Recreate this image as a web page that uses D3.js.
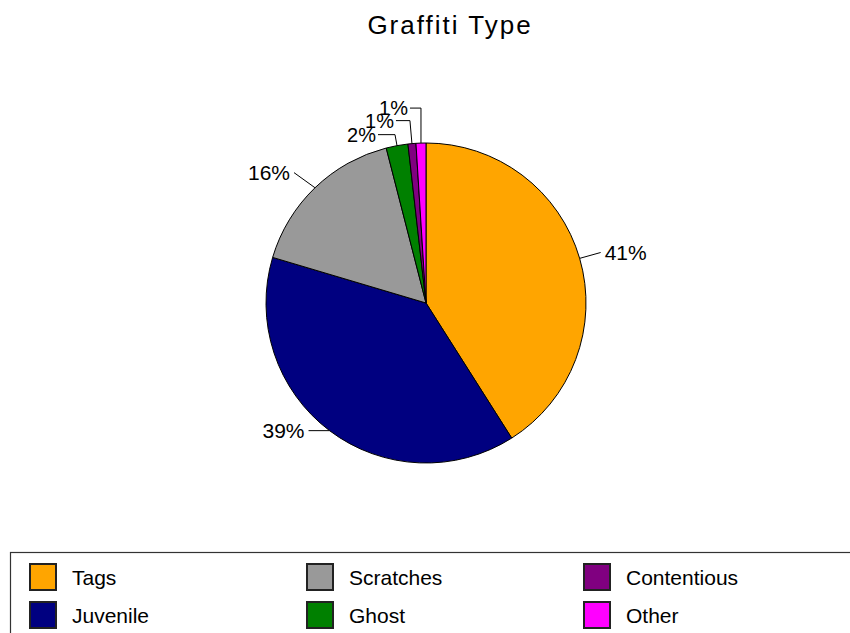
<!DOCTYPE html>
<html><head><meta charset="utf-8">
<script src="https://cdn.jsdelivr.net/npm/d3@7"></script>
<style>
html,body{margin:0;padding:0;background:#fff;overflow:hidden;}
text{font-family:"Liberation Sans",Arial,sans-serif;fill:#000;}
</style></head>
<body>
<script>
const title = "Graffiti Type";
const categories = ["Tags", "Juvenile", "Scratches", "Ghost", "Contentious", "Other"];
const values = [41.0, 38.6, 16.4, 2.2, 0.8, 1.0];
const colors = ["#FFA500", "#000080", "#999999", "#008000", "#800080", "#FF00FF"];
const legendOrder = ["Tags", "Scratches", "Contentious", "Juvenile", "Ghost", "Other"];

const W = 850, H = 633;
const cx = 426, cy = 303, R = 160;

const svg = d3.select("body").append("svg").attr("width", W).attr("height", H);

svg.append("text").attr("x", 450).attr("y", 34).attr("text-anchor", "middle")
  .attr("font-size", 26).attr("letter-spacing", 2).text(title);

const data = categories.map((c, i) => ({cat: c, value: values[i], color: colors[i]}));
const total = d3.sum(values);
const pie = d3.pie().value(d => d.value).sort(null);
const arcs = pie(data);
const arc = d3.arc().innerRadius(0).outerRadius(R);
const fmt = d3.format(".0%");

const g = svg.append("g").attr("transform", `translate(${cx},${cy})`);
g.selectAll("path").data(arcs).join("path")
  .attr("d", arc).attr("fill", d => d.data.color)
  .attr("stroke", "#000").attr("stroke-width", 1);

// labels
const lab = g.append("g");
let smallIdx = 0;
arcs.forEach(a => {
  const mid = (a.startAngle + a.endAngle) / 2;
  const sx = Math.sin(mid) * R, sy = -Math.cos(mid) * R;
  const txt = fmt(a.data.value / total);
  const small = (a.endAngle - a.startAngle) < 0.2;
  if (!small) {
    const side = Math.sin(mid) >= 0 ? 1 : -1;
    const dx = side * 21;
    const dy = -Math.max(0, Math.cos(mid)) * 21;
    const ex = sx + dx, ey = sy + dy;
    lab.append("line").attr("x1", sx).attr("y1", sy).attr("x2", ex).attr("y2", ey)
      .attr("stroke", "#000").attr("stroke-width", 1);
    lab.append("text").attr("x", ex + side * 4).attr("y", ey).attr("dy", "0.35em")
      .attr("text-anchor", side > 0 ? "start" : "end").attr("font-size", 21).text(txt);
  } else {
    const k = smallIdx++;
    const ey = sy - 11 - 12 * k;
    const ex = sx - 2 + (k === 2 ? 2 : 0);
    const hx = ex - (17 - 3 * k);
    lab.append("polyline")
      .attr("points", `${sx},${sy} ${ex},${ey} ${hx},${ey}`)
      .attr("fill", "none").attr("stroke", "#000").attr("stroke-width", 1);
    lab.append("text").attr("x", hx - 2).attr("y", ey).attr("dy", "0.35em")
      .attr("text-anchor", "end").attr("font-size", 20).text(txt);
  }
});

// legend
svg.append("rect").attr("x", 10.5).attr("y", 552.5).attr("width", 860).attr("height", 100)
  .attr("fill", "#fff").attr("stroke", "#333").attr("stroke-width", 1.2);

const colX = d3.scaleBand().domain([0, 1, 2]).range([29, 29 + 277 * 3]);
const rowY = d3.scaleBand().domain([0, 1]).range([563, 563 + 38 * 2]);
const lg = svg.append("g");
legendOrder.forEach((name, i) => {
  const d = data.find(e => e.cat === name);
  const col = i % 3, row = Math.floor(i / 3);
  const x = colX(col), y = rowY(row);
  lg.append("rect").attr("x", x + 1).attr("y", y + 1).attr("width", 26).attr("height", 26)
    .attr("fill", d.color).attr("stroke", "#222").attr("stroke-width", 2);
  lg.append("text").attr("x", x + 43).attr("y", y + 14).attr("dy", "0.36em")
    .attr("font-size", 21).text(name);
});
</script>
</body></html>
